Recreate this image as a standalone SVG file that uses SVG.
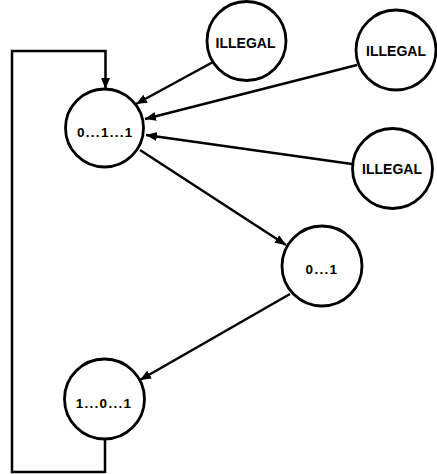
<svg xmlns="http://www.w3.org/2000/svg" width="437" height="474" viewBox="0 0 437 474">
<style>
.node{fill:#fff;stroke:#000;stroke-width:2.8}
.lbl{font-family:"Liberation Sans",Arial,sans-serif;font-weight:bold;fill:#000;text-anchor:middle}
.ill{font-size:14px}
.num{font-size:13.5px;letter-spacing:1.3px}
.edge{fill:none;stroke:#000;stroke-width:2.5}
</style>
<defs>
<marker id="ah" markerUnits="userSpaceOnUse" markerWidth="12" markerHeight="10" refX="11" refY="4.5" orient="auto">
<path d="M0,0 L11,4.5 L0,9 Z" fill="#000"/>
</marker>
</defs>
<rect width="437" height="474" fill="#fff"/>
<g id="connectors">
<path class="edge" d="M105,439 V472 H12 V51 H105.5 V89" marker-end="url(#ah)"/>
<line class="edge" x1="213" y1="62" x2="136" y2="104" marker-end="url(#ah)"/>
<line class="edge" x1="357" y1="65" x2="145" y2="119" marker-end="url(#ah)"/>
<line class="edge" x1="352" y1="164" x2="146" y2="135" marker-end="url(#ah)"/>
<line class="edge" x1="140" y1="150" x2="286" y2="245" marker-end="url(#ah)"/>
<line class="edge" x1="290" y1="294" x2="140" y2="380" marker-end="url(#ah)"/>
</g>
<g id="n_011">
<circle class="node" cx="104.5" cy="128" r="39"/>
<text class="lbl num" x="105.3" y="137">0...1...1</text>
</g>
<g id="n_ill1">
<circle class="node" cx="246.5" cy="41" r="39.5"/>
<text class="lbl ill" x="245.5" y="48">ILLEGAL</text>
</g>
<g id="n_ill2">
<circle class="node" cx="396" cy="50" r="40"/>
<text class="lbl ill" x="396" y="56">ILLEGAL</text>
</g>
<g id="n_ill3">
<circle class="node" cx="392.5" cy="168.5" r="40"/>
<text class="lbl ill" x="392" y="174">ILLEGAL</text>
</g>
<g id="n_01">
<circle class="node" cx="322" cy="266" r="40"/>
<text class="lbl num" x="322" y="274">0...1</text>
</g>
<g id="n_101">
<circle class="node" cx="104.5" cy="399" r="40"/>
<text class="lbl num" x="104" y="408">1...0...1</text>
</g>
</svg>
